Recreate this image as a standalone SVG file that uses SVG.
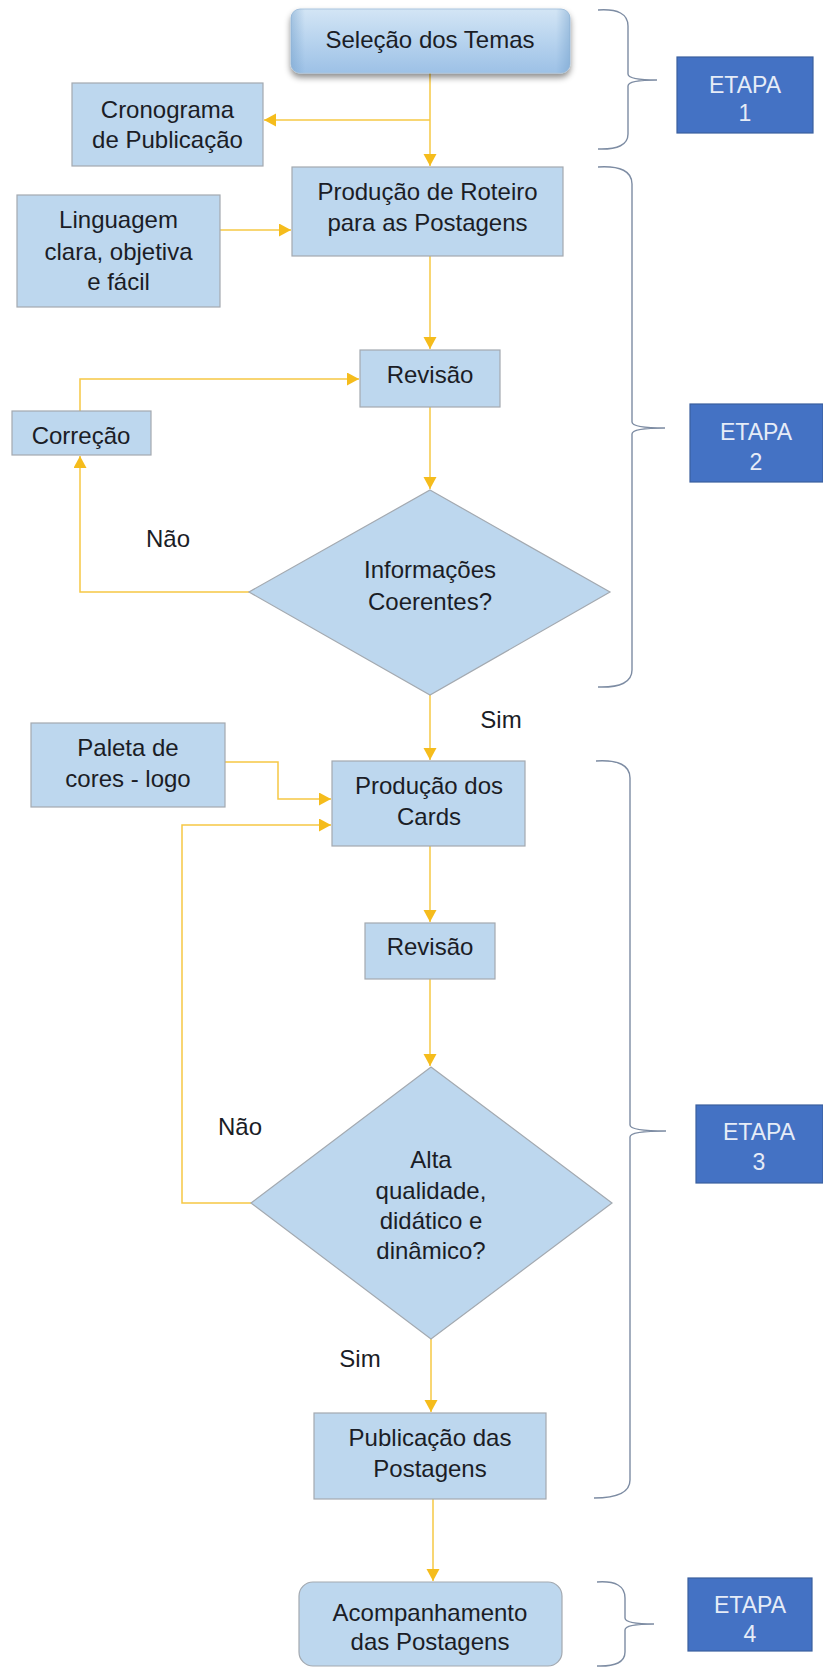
<svg xmlns="http://www.w3.org/2000/svg" width="823" height="1668" viewBox="0 0 823 1668">
<style>
text{font-family:"Liberation Sans",Arial,sans-serif;font-size:24px;fill:#1b1d26;text-anchor:middle}
.box{fill:#BDD7EE;stroke:#A3A9B0;stroke-width:1.2}
.etapa{fill:#4472C4;stroke:#3A5F9E;stroke-width:1.2}
.et{fill:#E6ECF7;font-size:23px}
.conn{fill:none;stroke:#F6C844;stroke-width:1.5}
.brace{fill:none;stroke:#7D8CA3;stroke-width:1.4}
</style>
<defs>
<marker id="arr" markerUnits="userSpaceOnUse" markerWidth="14" markerHeight="14" refX="12" refY="6.5" orient="auto">
<path d="M0,0 L12,6.5 L0,13 z" fill="#F5BC1C"/>
</marker>
<linearGradient id="g1" x1="0" y1="0" x2="0" y2="1">
<stop offset="0" stop-color="#D3E5F5"/>
<stop offset="0.5" stop-color="#B7D3EE"/>
<stop offset="1" stop-color="#9DC1E6"/>
</linearGradient>
<linearGradient id="g2" x1="0" y1="0" x2="1" y2="0">
<stop offset="0" stop-color="#6E9CC8" stop-opacity="0.45"/>
<stop offset="0.05" stop-color="#6E9CC8" stop-opacity="0"/>
<stop offset="0.95" stop-color="#6E9CC8" stop-opacity="0"/>
<stop offset="1" stop-color="#6E9CC8" stop-opacity="0.45"/>
</linearGradient>
<filter id="sh" x="-10%" y="-20%" width="120%" height="160%">
<feDropShadow dx="0" dy="4" stdDeviation="3" flood-color="#000" flood-opacity="0.45"/>
</filter>
</defs>

<g id="connectors">
<path class="conn" d="M430,73 L430,166" marker-end="url(#arr)"/>
<path class="conn" d="M430,120 L264,120" marker-end="url(#arr)"/>
<path class="conn" d="M220,230 L291,230" marker-end="url(#arr)"/>
<path class="conn" d="M430,256 L430,349" marker-end="url(#arr)"/>
<path class="conn" d="M430,407 L430,489" marker-end="url(#arr)"/>
<path class="conn" d="M249,592 L80,592 L80,456" marker-end="url(#arr)"/>
<path class="conn" d="M80,411 L80,379 L359,379" marker-end="url(#arr)"/>
<path class="conn" d="M430,695 L430,760" marker-end="url(#arr)"/>
<path class="conn" d="M225,762 L278,762 L278,799 L331,799" marker-end="url(#arr)"/>
<path class="conn" d="M251,1203 L182,1203 L182,825 L331,825" marker-end="url(#arr)"/>
<path class="conn" d="M430,846 L430,922" marker-end="url(#arr)"/>
<path class="conn" d="M430,979 L430,1066" marker-end="url(#arr)"/>
<path class="conn" d="M431,1339 L431,1412" marker-end="url(#arr)"/>
<path class="conn" d="M433,1499 L433,1581" marker-end="url(#arr)"/>
</g>

<g id="labels">
<text x="168" y="547">Não</text>
<text x="501" y="728">Sim</text>
<text x="240" y="1135">Não</text>
<text x="360" y="1367">Sim</text>
</g>

<g id="selecao">
<rect x="291" y="9" width="279" height="64" rx="9" fill="url(#g1)" stroke="#A9C4DE" stroke-width="1" filter="url(#sh)"/>
<rect x="291" y="9" width="279" height="64" rx="9" fill="url(#g2)"/>
<text x="430" y="48">Seleção dos Temas</text>
</g>
<g id="cronograma">
<rect class="box" x="72" y="83" width="191" height="83"/>
<text x="167.5" y="118">Cronograma</text>
<text x="167.5" y="148">de Publicação</text>
</g>
<g id="roteiro">
<rect class="box" x="292" y="167" width="271" height="89"/>
<text x="427.5" y="200">Produção de Roteiro</text>
<text x="427.5" y="231">para as Postagens</text>
</g>
<g id="linguagem">
<rect class="box" x="17" y="195" width="203" height="112"/>
<text x="118.5" y="228">Linguagem</text>
<text x="118.5" y="260">clara, objetiva</text>
<text x="118.5" y="290">e fácil</text>
</g>
<g id="revisao1">
<rect class="box" x="360" y="350" width="140" height="57"/>
<text x="430" y="383">Revisão</text>
</g>
<g id="correcao">
<rect class="box" x="12" y="411" width="139" height="44"/>
<text x="81" y="444">Correção</text>
</g>
<g id="decisao1">
<polygon class="box" points="430,490 610,592 430,695 249,592"/>
<text x="430" y="578">Informações</text>
<text x="430" y="610">Coerentes?</text>
</g>
<g id="paleta">
<rect class="box" x="31" y="723" width="194" height="84"/>
<text x="128" y="756">Paleta de</text>
<text x="128" y="787">cores - logo</text>
</g>
<g id="cards">
<rect class="box" x="332" y="761" width="193" height="85"/>
<text x="429" y="794">Produção dos</text>
<text x="429" y="825">Cards</text>
</g>
<g id="revisao2">
<rect class="box" x="365" y="923" width="130" height="56"/>
<text x="430" y="955">Revisão</text>
</g>
<g id="decisao2">
<polygon class="box" points="431,1067 612,1203 431,1339 251,1203"/>
<text x="431" y="1168">Alta</text>
<text x="431" y="1199">qualidade,</text>
<text x="431" y="1229">didático e</text>
<text x="431" y="1259">dinâmico?</text>
</g>
<g id="publicacao">
<rect class="box" x="314" y="1413" width="232" height="86"/>
<text x="430" y="1446">Publicação das</text>
<text x="430" y="1477">Postagens</text>
</g>
<g id="acompanhamento">
<rect class="box" x="299" y="1582" width="263" height="84" rx="14"/>
<text x="430" y="1621">Acompanhamento</text>
<text x="430" y="1650">das Postagens</text>
</g>

<g id="braces">
<path class="brace" d="M598,10 Q628,8 628,26 L628,74 Q628,80 657,80 Q628,80 628,86 L628,134 Q628,150 598,149"/>
<path class="brace" d="M598,167 Q632,165 632,184 L632,422 Q632,428 665,428 Q632,428 632,434 L632,670 Q632,688 598,687"/>
<path class="brace" d="M596,761 Q630,759 630,778 L630,1125 Q630,1131 666,1131 Q630,1131 630,1137 L630,1480 Q630,1498 594,1498"/>
<path class="brace" d="M597,1582 Q625,1580 625,1598 L625,1618 Q625,1624 654,1624 Q625,1624 625,1630 L625,1652 Q625,1667 597,1666"/>
</g>

<g id="etapa1">
<rect class="etapa" x="677" y="57" width="136" height="76"/>
<text class="et" x="745" y="93">ETAPA</text>
<text class="et" x="745" y="121">1</text>
</g>
<g id="etapa2">
<rect class="etapa" x="690" y="404" width="133" height="78"/>
<text class="et" x="756" y="440">ETAPA</text>
<text class="et" x="756" y="470">2</text>
</g>
<g id="etapa3">
<rect class="etapa" x="696" y="1105" width="127" height="78"/>
<text class="et" x="759" y="1140">ETAPA</text>
<text class="et" x="759" y="1170">3</text>
</g>
<g id="etapa4">
<rect class="etapa" x="688" y="1578" width="124" height="73"/>
<text class="et" x="750" y="1613">ETAPA</text>
<text class="et" x="750" y="1642">4</text>
</g>
</svg>
